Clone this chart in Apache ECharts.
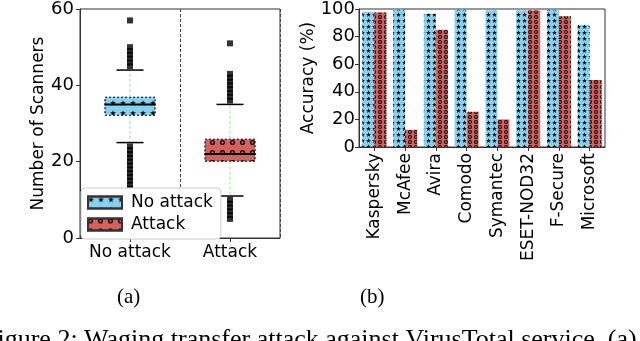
<!DOCTYPE html>
<html>
<head>
<meta charset="utf-8">
<script src="https://cdn.jsdelivr.net/npm/echarts@6/dist/echarts.min.js"></script>
<style>
  html, body { margin: 0; padding: 0; background: #fff; }
  #chart { width: 640px; height: 341px; }
</style>
</head>
<body>
<div id="chart"></div>
<script>
// (a) number of scanners, box plot
var boxCategories = ['No attack', 'Attack'];
var boxLow = [25, 11];
var boxQ1 = [32, 20];
var boxMedian = [35, 22];
var boxQ3 = [37, 26];
var boxHigh = [44, 35];
var outliersNoAttack = [45, 46, 47, 48, 49, 50, 57, 24, 23, 22, 21, 20, 19, 18, 17, 16, 15, 14, 13, 12];
var outliersAttack = [36, 37, 38, 39, 40, 41, 42, 43, 51, 10, 9, 8, 7, 6, 5];

// (b) accuracy per engine
var vendors = ['Kaspersky', 'McAfee', 'Avira', 'Comodo', 'Symantec', 'ESET-NOD32', 'F-Secure', 'Microsoft'];
var accNoAttack = [98, 99.5, 96.5, 99.5, 99, 99, 99.5, 88.5];
var accAttack = [97.5, 12.5, 85, 25.5, 20, 99, 94.8, 48.5];

var yTicksA = [0, 20, 40, 60];
var yTicksB = [0, 20, 40, 60, 80, 100];

var blue = '#84d2f0';
var red = '#d6605e';
var font = 'DejaVu Sans';

var starPath = 'path://M5,0 L6.2,3.6 L10,3.6 L6.9,5.9 L8.1,9.5 L5,7.3 L1.9,9.5 L3.1,5.9 L0,3.6 L3.8,3.6 Z';
var ringPath = 'path://M0,5 A5,5 0 1,1 10,5 A5,5 0 1,1 0,5 Z M2.6,5 A2.4,2.4 0 1,0 7.4,5 A2.4,2.4 0 1,0 2.6,5 Z';

var myChart = echarts.init(document.getElementById('chart'));

var boxBase = boxQ1.slice();
var boxNo = boxQ1.map(function (v, i) { return i === 0 ? boxQ3[i] - v : '-'; });
var boxAt = boxQ1.map(function (v, i) { return i === 1 ? boxQ3[i] - v : '-'; });

var boxRows = boxCategories.map(function (c, i) {
  return [i, boxLow[i], boxQ1[i], boxMedian[i], boxQ3[i], boxHigh[i]];
});
var outlierPts = [];
outliersNoAttack.forEach(function (v) { outlierPts.push([0, v]); });
outliersAttack.forEach(function (v) { outlierPts.push([1, v]); });

function renderBoxLines(params, api) {
  var c = api.value(0);
  var band = api.size([1, 0])[0];
  var half = band * 0.255, cap = band * 0.135;
  var lo = api.coord([c, api.value(1)]);
  var q1 = api.coord([c, api.value(2)]);
  var md = api.coord([c, api.value(3)]);
  var q3 = api.coord([c, api.value(4)]);
  var hi = api.coord([c, api.value(5)]);
  var x = lo[0];
  var green = { stroke: '#90ee90', lineWidth: 1, lineDash: [3, 2] };
  var blk = { stroke: '#000', lineWidth: 1.5 };
  return {
    type: 'group',
    children: [
      { type: 'line', shape: { x1: x, y1: q3[1], x2: x, y2: hi[1] }, style: green },
      { type: 'line', shape: { x1: x, y1: q1[1], x2: x, y2: lo[1] }, style: green },
      { type: 'line', shape: { x1: x - cap, y1: hi[1], x2: x + cap, y2: hi[1] }, style: blk },
      { type: 'line', shape: { x1: x - cap, y1: lo[1], x2: x + cap, y2: lo[1] }, style: blk },
      { type: 'line', shape: { x1: x - half, y1: md[1], x2: x + half, y2: md[1] }, style: { stroke: '#000', lineWidth: 2 } }
    ]
  };
}

var tickStyle = { show: true, inside: false, length: 4, lineStyle: { color: '#333' } };
var lineStyle = { show: true, lineStyle: { color: '#333', width: 1 } };

myChart.setOption({
  animation: false,
  backgroundColor: '#fff',
  textStyle: { fontFamily: font },
  grid: [
    { left: 80, top: 7, width: 200, height: 231, show: true, borderColor: '#333', borderWidth: 1 },
    { left: 359, top: 6, width: 246, height: 141, show: true, borderColor: '#333', borderWidth: 1 }
  ],
  legend: {
    data: ['No attack', 'Attack'],
    orient: 'vertical',
    left: 81, top: 188,
    icon: 'rect',
    itemWidth: 34, itemHeight: 12, itemGap: 5,
    padding: [6, 8, 6, 6],
    backgroundColor: '#fff',
    borderColor: '#ccc', borderWidth: 1, borderRadius: 4,
    textStyle: { fontFamily: font, fontSize: 17, color: '#000', padding: [0, 0, 0, 4] },
    selectedMode: false
  },
  xAxis: [
    {
      type: 'category', gridIndex: 0, data: boxCategories,
      axisLine: lineStyle,
      axisTick: { show: true, alignWithLabel: true, length: 4, lineStyle: { color: '#333' } },
      axisLabel: { color: '#000', fontFamily: font, fontSize: 17, margin: 6, interval: 0 },
      splitLine: { show: true, interval: 0, lineStyle: { color: '#444', type: [3, 2], width: 1 } }
    },
    {
      type: 'category', gridIndex: 1, data: vendors,
      axisLine: lineStyle,
      axisTick: { show: true, alignWithLabel: true, length: 4, lineStyle: { color: '#333' } },
      axisLabel: { color: '#000', fontFamily: font, fontSize: 17, rotate: 90, margin: 6, interval: 0 }
    }
  ],
  yAxis: [
    {
      type: 'value', gridIndex: 0, min: 0, max: 60, interval: 20,
      axisLine: lineStyle, axisTick: tickStyle,
      splitLine: { show: false },
      name: 'Number of Scanners', nameLocation: 'middle', nameGap: 33,
      nameTextStyle: { fontFamily: font, fontSize: 17, color: '#000' },
      axisLabel: { color: '#000', fontFamily: font, fontSize: 18, margin: 6,
        formatter: function (v) { return yTicksA.indexOf(v) >= 0 ? String(v) : ''; } }
    },
    {
      type: 'value', gridIndex: 1, min: 0, max: 100, interval: 20,
      axisLine: lineStyle, axisTick: tickStyle,
      splitLine: { show: false },
      name: 'Accuracy (%)', nameLocation: 'middle', nameGap: 41,
      nameTextStyle: { fontFamily: font, fontSize: 17, color: '#000' },
      axisLabel: { color: '#000', fontFamily: font, fontSize: 18, margin: 4,
        formatter: function (v) { return yTicksB.indexOf(v) >= 0 ? String(v) : ''; } }
    }
  ],
  series: [
    {
      name: 'base', type: 'bar', xAxisIndex: 0, yAxisIndex: 0, stack: 'box',
      data: boxBase, barWidth: 51, z: 1,
      itemStyle: { color: 'rgba(0,0,0,0)' }, silent: true
    },
    {
      name: 'No attack', type: 'bar', xAxisIndex: 0, yAxisIndex: 0, stack: 'box',
      data: boxNo, barWidth: 51, z: 2,
      itemStyle: {
        color: blue, borderColor: '#333', borderWidth: 1, borderType: [2, 2],
        decal: { symbol: starPath, symbolSize: 1, color: '#000', dashArrayX: [6, 4], dashArrayY: [6, 4] }
      }
    },
    {
      name: 'Attack', type: 'bar', xAxisIndex: 0, yAxisIndex: 0, stack: 'box',
      data: boxAt, barWidth: 51, z: 2,
      itemStyle: {
        color: red, borderColor: '#333', borderWidth: 1, borderType: [2, 2],
        decal: { symbol: ringPath, symbolSize: 1, color: '#000', dashArrayX: [5, 5], dashArrayY: [5, 5] }
      }
    },
    {
      name: 'whiskers', type: 'custom', xAxisIndex: 0, yAxisIndex: 0,
      data: boxRows, renderItem: renderBoxLines, z: 3,
      encode: { x: 0, y: [1, 2, 3, 4, 5] }
    },
    {
      name: 'outliers', type: 'scatter', xAxisIndex: 0, yAxisIndex: 0,
      data: outlierPts, symbol: 'rect', symbolSize: 6, z: 3,
      itemStyle: { color: '#000' }
    },
    {
      name: 'No attack', type: 'bar', xAxisIndex: 1, yAxisIndex: 1,
      data: accNoAttack, barWidth: 12, barGap: '0%',
      itemStyle: {
        color: blue,
        decal: { symbol: starPath, symbolSize: 1, color: '#000', dashArrayX: [5, 1], dashArrayY: [5, 1] }
      }
    },
    {
      name: 'Attack', type: 'bar', xAxisIndex: 1, yAxisIndex: 1,
      data: accAttack, barWidth: 12, barGap: '0%',
      itemStyle: {
        color: red,
        decal: { symbol: ringPath, symbolSize: 1, color: '#000', dashArrayX: [4, 2], dashArrayY: [4, 1] }
      }
    }
  ],
  graphic: [
    { type: 'text', left: 117, top: 287, style: { text: '(a)', font: '21px "Liberation Serif"', fill: '#000' } },
    { type: 'text', left: 360, top: 287, style: { text: '(b)', font: '21px "Liberation Serif"', fill: '#000' } },
    { type: 'text', left: -17, top: 327, style: { text: 'Figure 2: Waging transfer attack against VirusTotal service. (a) Number', font: '26px "Liberation Serif"', fill: '#000' } }
  ]
});
</script>
</body>
</html>
